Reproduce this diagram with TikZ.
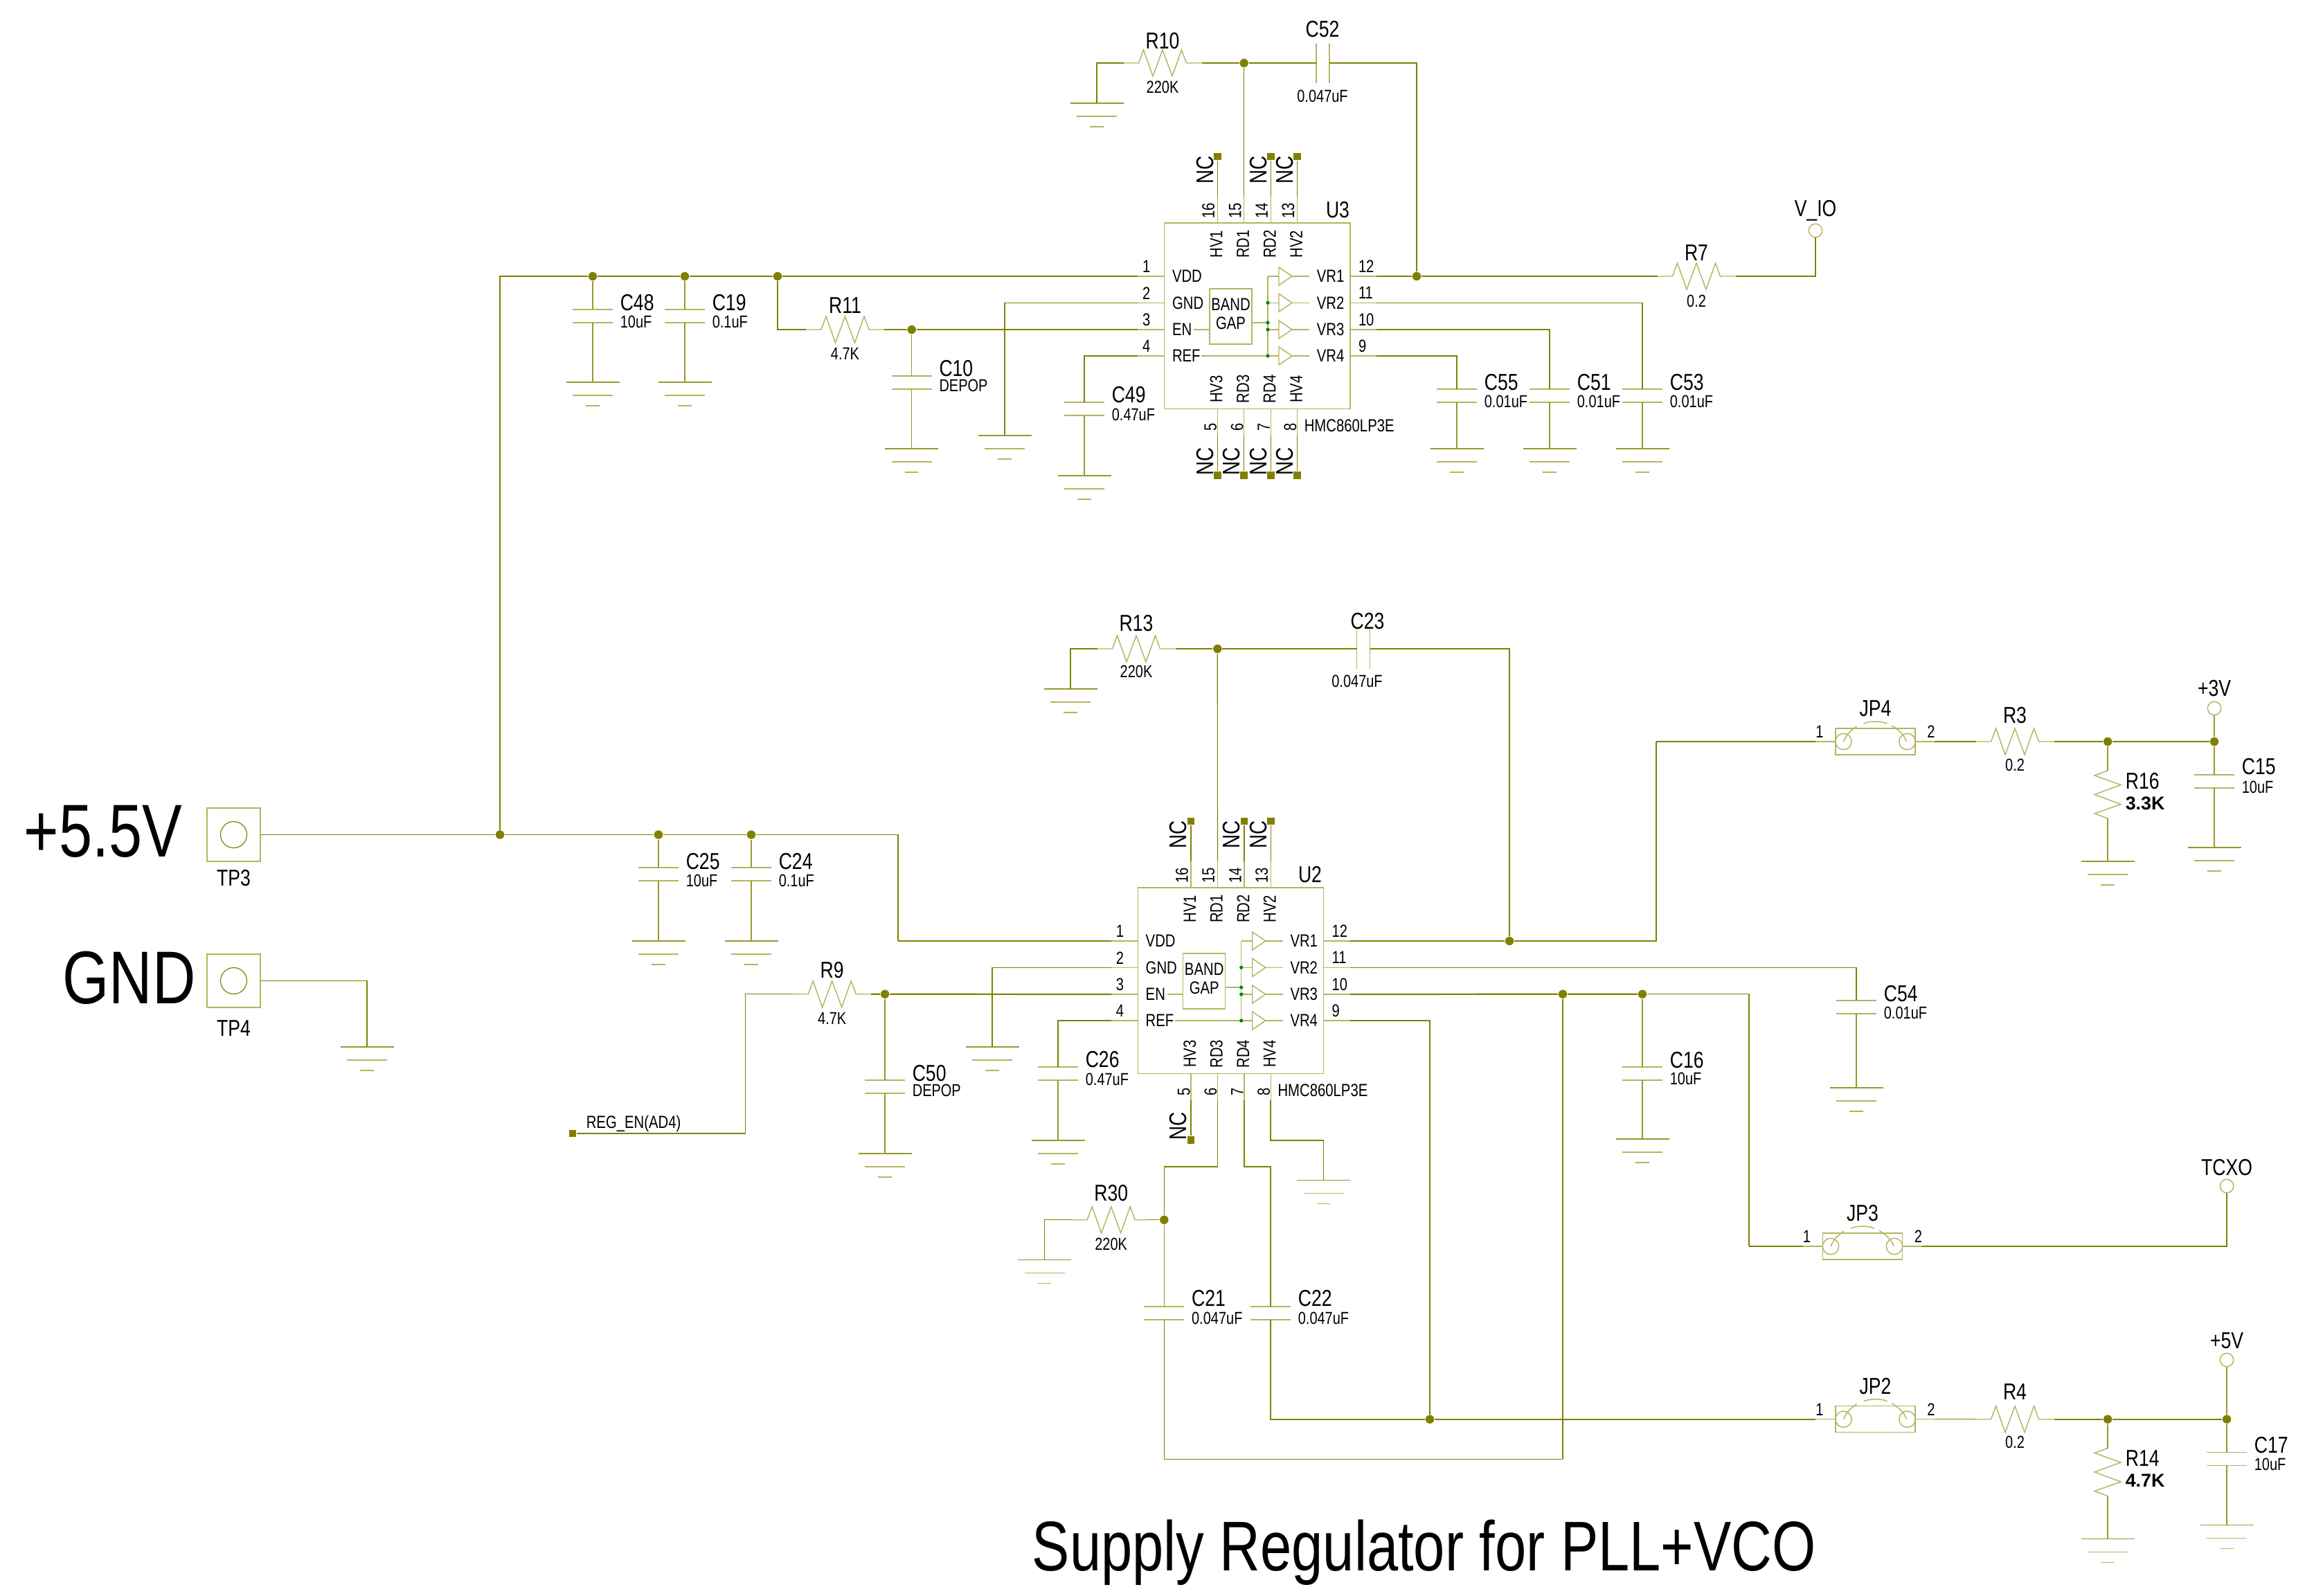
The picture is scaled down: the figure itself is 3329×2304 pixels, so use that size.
\documentclass[tikz,border=0pt]{standalone}
\usepackage{fontspec}
\setmainfont[FakeStretch=0.8]{Liberation Sans}
\newfontfamily\boldfam{Liberation Sans}
\usetikzlibrary{calc}
\definecolor{wirecol}{HTML}{808000}
\definecolor{leadcol}{HTML}{98982C}
\definecolor{compcol}{HTML}{B4B45E}
\definecolor{bufcol}{HTML}{008000}

% styles
\tikzset{net/.style={draw=wirecol, line width=0.3pt},
         netb/.style={draw=wirecol, line width=0.55pt},
         lead/.style={draw=leadcol, line width=0.33pt},
         comp/.style={draw=compcol, line width=0.36pt},
         junc/.style={circle, fill=wirecol, inner sep=0, minimum size=3.1pt},
         ncsq/.style={rectangle, fill=wirecol, inner sep=0, minimum size=2.7pt},
         term/.style={circle, draw=compcol, line width=0.36pt, inner sep=0, minimum size=4.85pt},
         reflbl/.style={inner sep=0, font=\fontsize{8.3}{10}\selectfont},
         vallbl/.style={inner sep=0, font=\fontsize{6.25}{7}\selectfont},
         boldlbl/.style={inner sep=0, font=\fontsize{6.7}{8}\selectfont\boldfam\bfseries},
         pinlbl/.style={inner sep=0, font=\fontsize{6.35}{7}\selectfont},
         numlbl/.style={inner sep=0, font=\fontsize{6.3}{7}\selectfont},
         nclbl/.style={inner sep=0, rotate=90, font=\fontsize{8.7}{10}\selectfont},
         biglbl/.style={inner sep=0, font=\fontsize{27}{30}\selectfont},
         ttllbl/.style={inner sep=0, font=\fontsize{25.4}{28}\selectfont}
}

% symbols
\tikzset{hres/.pic={
            \coordinate (-a) at (-56.5,0);
            \coordinate (-b) at (56.5,0);
            \draw[comp] (-a) -- (-34.5,0) -- (-27.5,-19) -- (-14,19) -- (0,-19)
                -- (14,19) -- (27.5,-19) -- (34.5,0) -- (-b);
         },
         vres/.pic={
            \coordinate (-a) at (0,-34.5);
            \coordinate (-b) at (0,34.5);
            \draw[comp] (-a) -- (-19,-27.5) -- (19,-14) -- (-19,0) -- (19,14)
                -- (-19,27.5) -- (-b);
         },
         vcap/.pic={
            \coordinate (-a) at (0,-9.5);
            \coordinate (-b) at (0,9.5);
            \draw[comp] (-29,-9.5) -- (29,-9.5);
            \draw[comp] (-29,9.5) -- (29,9.5);
         },
         hcap/.pic={
            \coordinate (-a) at (-9.5,0);
            \coordinate (-b) at (9.5,0);
            \draw[comp] (-9.5,-28.5) -- (-9.5,28.5);
            \draw[comp] (9.5,-28.5) -- (9.5,28.5);
         },
         gnd/.pic={
            \coordinate (-t) at (0,0);
            \draw[lead] (-38.5,0) -- (38.5,0);
            \draw[comp] (-29,19) -- (29,19);
            \draw[comp] (-9.6,34) -- (9.6,34);
         },
         testpt/.pic={
            \coordinate (-b) at (38.5,0);
            \draw[comp] (-38.5,-38.5) rectangle (38.5,38.5);
            \draw[net] (0,0) circle [radius=19];
         },
         jumper/.pic={
            \coordinate (-a) at (-86.5,0);
            \coordinate (-b) at (85.5,0);
            \draw[comp] (-57.5,-19) rectangle (57.5,19);
            \draw[comp] (-a) -- (-57.5,0);
            \draw[comp] (57.5,0) -- (-b);
            \draw[comp] (-46,0) circle [radius=11.7];
            \draw[comp] (46,0) circle [radius=11.7];
            \draw[comp] (-46,0) .. controls (-41,-12) and (-35,-16) .. (-27,-22);
            \draw[comp] (-17,-26) .. controls (-7,-30) and (7,-30) .. (17,-26);
            \draw[comp] (24,-23) .. controls (33,-17) and (41,-11) .. (45,0);
            \node[numlbl] (-n1) at (-80.5,-14) {1};
            \node[numlbl] (-n2) at (80.5,-14) {2};
         },
         nctop/.pic={
            \node[ncsq] (-sq) at (0,-57.7) {};
            \draw[net] (0,0) -- (-sq);
            \node[nclbl] (-txt) at (-18,-38.7) {NC};
         },
         ncbot/.pic={
            \node[ncsq] (-sq) at (0,57.3) {};
            \draw[net] (0,0) -- (-sq);
            \node[nclbl] (-txt) at (-18,37.3) {NC};
         },
         regchip/.pic={
            \draw[comp] (0,0) rectangle (268.3,268.7);
            % left and right pins
            \foreach \pinno/\pintxt/\yy in {1/VDD/77, 2/GND/115.3, 3/EN/154, 4/REF/192}{
                \coordinate (-p\pinno) at (-38.3,\yy);
                \draw[comp] (0,\yy) -- (-p\pinno);
                \node[numlbl] (-n\pinno) at (-26,\yy-14) {\pinno};
                \node[pinlbl,anchor=west] (-t\pinno) at (10.5,\yy) {\pintxt};
            }
            \foreach \pinno/\pintxt/\yy in {12/VR1/77, 11/VR2/115.3, 10/VR3/154, 9/VR4/192}{
                \coordinate (-p\pinno) at (306.6,\yy);
                \draw[comp] (268.3,\yy) -- (-p\pinno);
                \node[numlbl,anchor=west] (-n\pinno) at (279.5,\yy-14) {\pinno};
                \node[pinlbl,anchor=west] (-t\pinno) at (219.3,\yy) {\pintxt};
                % buffers
                \draw[comp] (165.3,\yy-13) -- (184.3,\yy) -- (165.3,\yy+13) -- cycle;
                \draw[comp] (149.3,\yy) -- (165.3,\yy);
                \draw[comp] (184.3,\yy) -- (209.3,\yy);
            }
            % top and bottom pins
            \foreach \pinno/\pintxt/\xx in {16/HV1/76.5, 15/RD1/115, 14/RD2/153.5, 13/HV2/191.8}{
                \coordinate (-p\pinno) at (\xx,-38.3);
                \draw[comp] (\xx,0) -- (-p\pinno);
                \node[numlbl,rotate=90] (-n\pinno) at (\xx-13,-18) {\pinno};
                \node[pinlbl,rotate=90] (-t\pinno) at (\xx-1.5,30.5) {\pintxt};
            }
            \foreach \pinno/\pintxt/\xx in {5/HV3/76.5, 6/RD3/115, 7/RD4/153.5, 8/HV4/191.8}{
                \coordinate (-p\pinno) at (\xx,307);
                \draw[comp] (\xx,268.7) -- (-p\pinno);
                \node[numlbl,rotate=90] (-n\pinno) at (\xx-10,295) {\pinno};
                \node[pinlbl,rotate=90] (-t\pinno) at (\xx-1.5,240) {\pintxt};
            }
            % band gap block
            \draw[comp] (65.3,95) rectangle (126.3,175);
            \node[pinlbl] (-band) at (95.8,118) {BAND};
            \node[pinlbl] (-gap) at (95.8,145) {GAP};
            \draw[comp] (126.3,144) -- (149.3,144);
            \draw[comp] (42.3,154) -- (65.3,154);
            \draw[comp] (53.3,192) -- (149.3,192);
            \draw[comp] (149.3,77) -- (149.3,192);
            \foreach \yy in {115.3,144,154,192}
                \fill[bufcol] (149.3,\yy) circle [radius=2.6];
            \node[pinlbl,anchor=west] (-part) at (201.3,293) {HMC860LP3E};
         }
}

\begin{document}
\begin{tikzpicture}[x=0.25pt,y=-0.25pt]
\useasboundingbox (0,0) rectangle (3329,2304);

% regulators
\pic (U3) at (1681.7,322) {regchip};
\pic (U2) at (1643.4,1282) {regchip};
\foreach \pn in {16,14,13}{
    \pic (U3-nc\pn) at (U3-p\pn) {nctop};
    \pic (U2-nc\pn) at (U2-p\pn) {nctop};
}
\foreach \pn in {5,6,7,8}
    \pic (U3-nc\pn) at (U3-p\pn) {ncbot};
\pic (U2-nc5) at (U2-p5) {ncbot};

% resistors
\foreach \nm/\xx/\yy/\ly/\vy/\vv in {R10/1679/91/59/126/220K, R7/2450/399/365/435/0.2,
        R11/1220.5/476/441/511/4.7K, R13/1641/937/900/970/220K,
        R9/1201.7/1435.7/1401/1471/4.7K, R30/1604.7/1761.7/1723/1797/220K,
        R3/2910/1071/1033/1105/0.2, R4/2910/2049.7/2010/2083/0.2}{
    \pic (\nm) at (\xx,\yy) {hres};
    \node[reflbl] (\nm-ref) at (\xx,\ly) {\nm};
    \node[vallbl] (\nm-val) at (\xx,\vy) {\vv};
}
\pic (R16) at (3044,1147.5) {vres};
\pic (R14) at (3044,2126) {vres};
\node[reflbl,anchor=west] (R16-ref) at (3069,1128) {R16};
\node[boldlbl,anchor=west] (R16-val) at (3069,1160) {3.3K};
\node[reflbl,anchor=west] (R14-ref) at (3069,2106) {R14};
\node[boldlbl,anchor=west] (R14-val) at (3069,2138) {4.7K};

% capacitors with their grounds
\foreach \nm/\xx/\ya/\gy/\ly/\vy/\vv in {C48/856/447/552/437/465/10uF, C19/989/447/552/437/465/0.1uF,
        C10/1316.7/543/648/532/557/DEPOP, C49/1566/581/687/570/599/0.47uF,
        C55/2104/562/648/552/580/0.01uF, C51/2238/562/648/552/580/0.01uF,
        C53/2372/562/648/552/580/0.01uF, C25/951/1253/1359/1244/1272/10uF,
        C24/1085/1253/1359/1244/1272/0.1uF, C50/1278/1560/1666/1550/1575/DEPOP,
        C26/1528/1541/1647/1530/1559/0.47uF, C54/2681/1445/1571/1435/1463/0.01uF,
        C16/2372/1541/1645/1531/1558/10uF, C15/3198/1119/1224/1107/1137/10uF,
        C17/3216/2097.7/2202.7/2087/2115/10uF}{
    \pic (\nm) at (\xx,\ya+9.5) {vcap};
    \pic (\nm-g) at (\xx,\gy) {gnd};
    \draw[lead] (\nm-b) -- (\nm-g-t);
    \node[reflbl,anchor=west] (\nm-ref) at (\xx+39,\ly) {\nm};
    \node[vallbl,anchor=west] (\nm-val) at (\xx+39,\vy) {\vv};
}
\foreach \nm/\xx in {C21/1681.3,C22/1835}{
    \pic (\nm) at (\xx,1896.3) {vcap};
    \node[reflbl,anchor=west] (\nm-ref) at (\xx+39,1875) {\nm};
    \node[vallbl,anchor=west] (\nm-val) at (\xx+39,1904) {0.047uF};
}
\pic (C52) at (1910.5,91) {hcap};
\node[reflbl] (C52-ref) at (1910,42) {C52};
\node[vallbl] (C52-val) at (1910,139) {0.047uF};
\pic (C23) at (1969,937) {hcap};
\node[reflbl] (C23-ref) at (1975,897) {C23};
\node[vallbl] (C23-val) at (1960,984) {0.047uF};

% other grounds
\foreach \nm/\xx/\yy in {gR10/1584/149, gU3/1451/629, gTP4/530/1512, gR13/1546/995,
        gU2/1433/1512, gR30/1508.7/1819.7, gU8/1911.7/1704.3, gR16/3044/1244, gR14/3044/2222.5}
    \pic (\nm) at (\xx,\yy) {gnd};

% jumpers and test points
\pic (JP4) at (2708.5,1071) {jumper};
\pic (JP3) at (2690,1800) {jumper};
\pic (JP2) at (2708.5,2049.7) {jumper};
\pic (TP3) at (337.5,1205.5) {testpt};
\pic (TP4) at (337.5,1416.5) {testpt};

% junctions
\foreach \nm/\xx/\yy in {j5v/722/1205.5, jC48/856/399, jC19/989/399, jR11/1123/399,
        jC10/1316.7/476, jC52/1796.7/91, jR7/2046/399, jC25/951/1205.5, jC24/1085/1205.5,
        jC23/1758.3/937, jJP4/2180/1359, jC50/1278/1435.7, jVR3/2257/1435.7, jC16/2372/1435.7,
        jR30/1681.3/1761.7, jJP2/2065/2049.7, jR16/3044/1071, jC15/3198/1071,
        jR14/3044/2049.7, jC17/3216/2049.7}
    \node[junc] (\nm) at (\xx,\yy) {};

% free ends
\node[term] (vio) at (2622,333) {};
\node[term] (t3v) at (3198,1023) {};
\node[term] (tcxo) at (3216,1713) {};
\node[term] (t5v) at (3216,1964) {};
\node[ncsq] (regen) at (827,1637) {};
\coordinate (kbus) at (722,399);
\coordinate (kvdd) at (1297,1359);
\coordinate (kjp4) at (2392,1071);
\coordinate (kjp3) at (2526,1800);
\coordinate (ken) at (1076.7,1637);
\coordinate (k6) at (1681.3,1685);
\coordinate (k7) at (1835,1685);
\coordinate (k8) at (1911.7,1646.7);
\coordinate (kbot) at (2257,2107.3);

% upper regulator nets
\draw[net] (TP3-b) -- (j5v);
\draw[netb] (j5v) -- (kbus) -- (jC48) -- (jC19) -- (jR11) -- (U3-p1);
\draw[lead] (jC48) -- (C48-a);
\draw[lead] (jC19) -- (C19-a);
\draw[netb] (jR11) |- (R11-a);
\draw[netb] (R11-b) -- (jC10) -- (U3-p3);
\draw[lead] (jC10) -- (C10-a);
\draw[net] (U3-p2) -| (gU3-t);
\draw[net] (U3-p4) -| (C49-a);
\draw[netb] (U3-p12) -- (jR7) -- (R7-a);
\draw[net] (R7-b) -| (vio);
\draw[net] (U3-p11) -| (C53-a);
\draw[netb] (U3-p10) -| (C51-a);
\draw[net] (U3-p9) -| (C55-a);
\draw[netb] (R10-b) -- (jC52) -- (C52-a);
\draw[net] (C52-b) -| (jR7);
\draw[net] (jC52) -- (U3-p15);
\draw[net] (R10-a) -| (gR10-t);

% lower regulator nets
\draw[net] (j5v) -- (jC25) -- (jC24);
\draw[lead] (jC25) -- (C25-a);
\draw[lead] (jC24) -- (C24-a);
\draw[net] (jC24) -| (kvdd);
\draw[netb] (kvdd) -- (U2-p1);
\draw[net] (TP4-b) -| (gTP4-t);
\draw[net] (U2-p2) -| (gU2-t);
\draw[netb] (U2-p3) -- (jC50) -- (R9-b);
\draw[lead] (jC50) -- (C50-a);
\draw[net] (R9-a) -| (ken);
\draw[net] (ken) -- (regen);
\draw[netb] (U2-p4) -| (C26-a);
\draw[netb] (U2-p12) -- (jJP4);
\draw[netb] (jJP4) -| (kjp4);
\draw[netb] (kjp4) -- (JP4-a);
\draw[net] (R13-b) -- (jC23) -- (C23-a);
\draw[net] (C23-b) -| (jJP4);
\draw[net] (jC23) -- (U2-p15);
\draw[net] (R13-a) -| (gR13-t);
\draw[net] (U2-p11) -| (C54-a);
\draw[netb] (U2-p10) -- (jVR3) -- (jC16);
\draw[net] (jC16) -| (kjp3);
\draw[net] (kjp3) -- (JP3-a);
\draw[lead] (jC16) -- (C16-a);
\draw[net] (JP3-b) -| (tcxo);
\draw[net] (jVR3) -- (kbot);
\draw[net] (C21-b) |- (kbot);
\draw[lead] (jR30) -- (C21-a);
\draw[net] (R30-b) -- (jR30);
\draw[net] (R30-a) -| (gR30-t);
\draw[net] (U2-p6) |- (k6) -- (jR30);
\draw[net] (U2-p7) |- (k7) -- (C22-a);
\draw[netb] (C22-b) |- (jJP2);
\draw[netb] (jJP2) -- (JP2-a);
\draw[netb] (U2-p9) -| (jJP2);
\draw[netb] (U2-p8) |- (k8);
\draw[net] (k8) -- (gU8-t);

% outputs
\draw[netb] (JP4-b) -- (R3-a);
\draw[netb] (R3-b) -- (jR16) -- (jC15);
\draw[lead] (jC15) -- (t3v);
\draw[lead] (jC15) -- (C15-a);
\draw[lead] (jR16) -- (R16-a);
\draw[lead] (R16-b) -- (gR16-t);
\draw[net] (JP2-b) -- (R4-a);
\draw[netb] (R4-b) -- (jR14) -- (jC17);
\draw[lead] (jC17) -- (t5v);
\draw[lead] (jC17) -- (C17-a);
\draw[lead] (jR14) -- (R14-a);
\draw[lead] (R14-b) -- (gR14-t);

% labels
\node[reflbl] (U3-ref) at (1932,303) {U3};
\node[reflbl] (U2-ref) at (1892,1263) {U2};
\node[reflbl] (JP4-ref) at (2708.5,1023) {JP4};
\node[reflbl] (JP3-ref) at (2690,1752) {JP3};
\node[reflbl] (JP2-ref) at (2708.5,2002) {JP2};
\node[reflbl] (TP3-ref) at (337.5,1268) {TP3};
\node[reflbl] (TP4-ref) at (337.5,1485) {TP4};
\node[reflbl] (vio-ref) at (2622,304) {V\_IO};
\node[reflbl] (t3v-ref) at (3198,994) {+3V};
\node[reflbl] (tcxo-ref) at (3216,1686) {TCXO};
\node[reflbl] (t5v-ref) at (3216,1936) {+5V};
\node[pinlbl,anchor=west] (regen-ref) at (846,1623) {REG\_EN(AD4)};
\node[biglbl] (tp3-big) at (149,1201) {+5.5V};
\node[biglbl] (tp4-big) at (186.5,1412) {GND};
\node[ttllbl,anchor=base west] (title) at (1490,2268) {Supply Regulator for PLL+VCO};

\end{tikzpicture}
\end{document}
